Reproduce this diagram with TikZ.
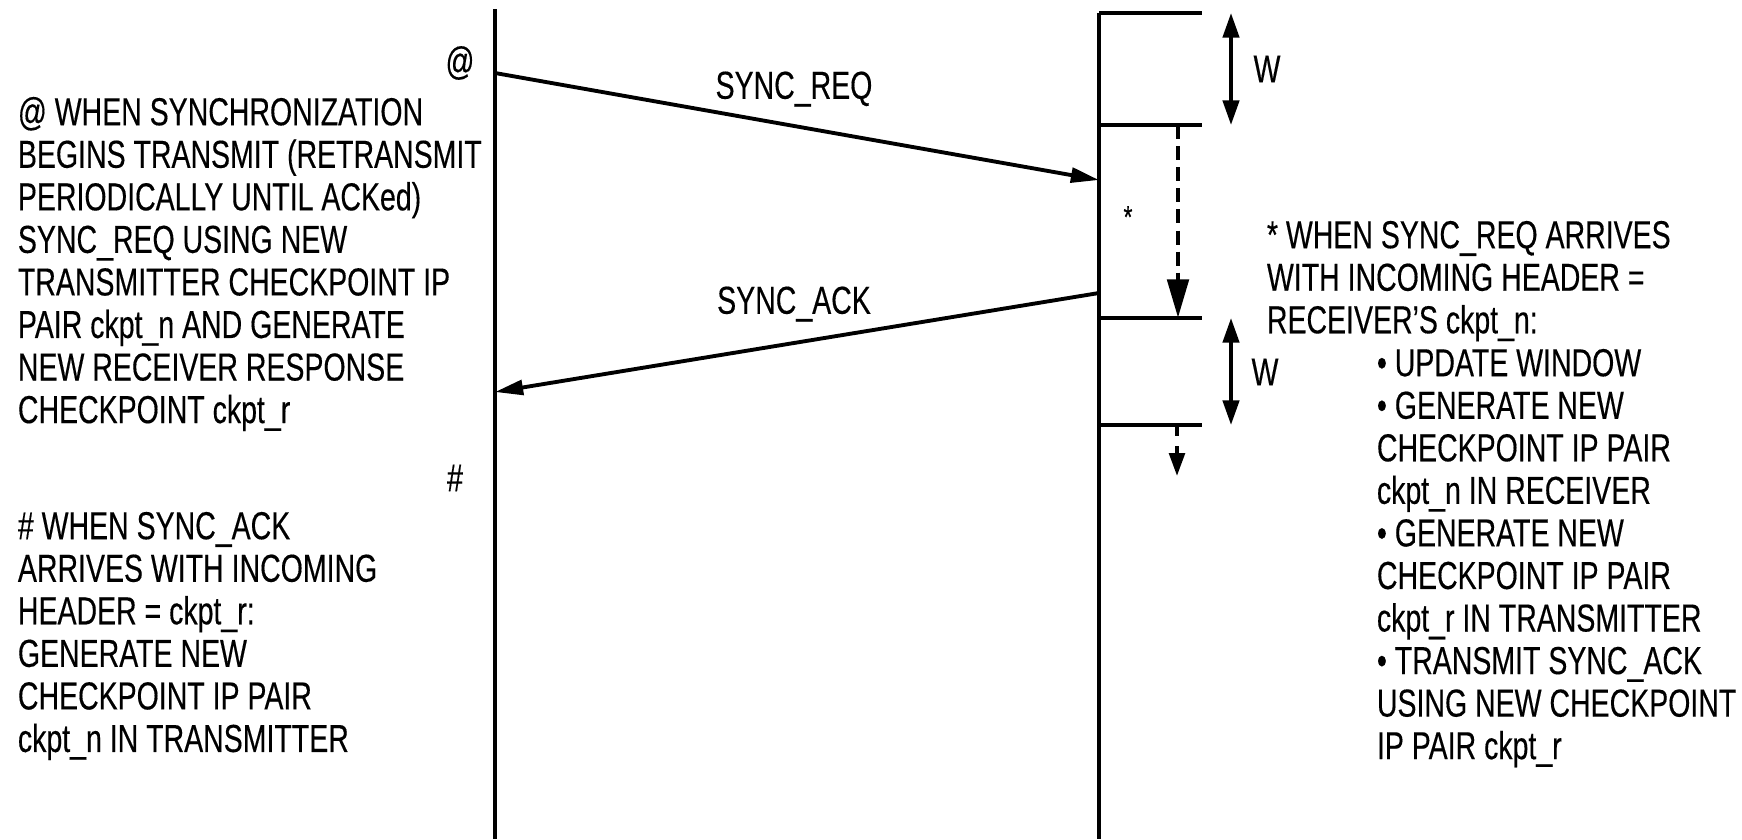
\documentclass[tikz,border=0pt]{standalone}
\usepackage{fontspec}
\setmainfont{Liberation Sans}[FakeStretch=0.73,FakeBold=0.3]
\usetikzlibrary{arrows.meta,positioning}

\tikzset{
	msg/.style={line width=1.1pt,-{Triangle[length=8pt,width=4.2pt]}},
	span/.style={line width=1.1pt,{Triangle[length=7pt,width=4.6pt]}-{Triangle[length=7pt,width=4.6pt]}},
	note/.style={align=left,inner sep=0pt,font=\fontsize{11.1}{12.1}\selectfont},
}

\begin{document}
\begin{tikzpicture}[x=0.01cm,y=-0.01cm,line width=1.1pt]
		\useasboundingbox (0,0) rectangle (1742,839);

		% the two stations
		\coordinate (txtop) at (495,9);
		\coordinate (txbot) at (495,839);
		\coordinate (rxtop) at (1099,13);
		\coordinate (rxbot) at (1099,839);
		\draw (txtop) -- (txbot);
		\draw (rxtop) -- (rxbot);

		% window marks on the receiver
		\foreach \y [count=\i] in {13,125,318,425} {
			\coordinate (tick\i) at (1099,\y);
			\coordinate (tickend\i) at (1202,\y);
			\draw (tick\i) -- (tickend\i);
		}

		% messages
		\coordinate (reqout) at (495,73);
		\coordinate (reqin)  at (1099,180);
		\coordinate (ackout) at (1099,293);
		\coordinate (ackin)  at (495,392);
		\draw[msg] (reqout) -- (reqin);
		\draw[msg] (ackout) -- (ackin);
		\node[note] (lblreq) at (794,89)  {SYNC\_REQ};
		\node[note] (lblack) at (794,304) {SYNC\_ACK};

		% window widths
		\coordinate (wtop1) at (1231,13);
		\coordinate (wbot1) at (1231,125);
		\coordinate (wtop2) at (1231,318);
		\coordinate (wbot2) at (1231,425);
		\draw[span] (wtop1) -- (wbot1);
		\draw[span] (wtop2) -- (wbot2);
		\node[note] (wone) at (1267,69)  {W};
		\node[note] (wtwo) at (1265,372) {W};

		% window shifts
		\coordinate (shift1) at (1178,125);
		\coordinate (shift2) at (1178,318);
		\coordinate (shift3) at (1177,425);
		\coordinate (shift4) at (1177,476);
		\draw[line width=1.4pt,dash pattern=on 4pt off 2pt,-{Triangle[length=11pt,width=6pt]}] (shift1) -- (shift2);
		\draw[line width=1.1pt,dash pattern=on 3pt off 3pt,-{Triangle[length=6.5pt,width=4.4pt]}] (shift3) -- (shift4);

		% event marks
		\node[note] (at)   at (460,63)  {@};
		\node[note,font=\fontsize{9}{10}\selectfont] (star) at (1128,217) {*};
		\node[note] (hash) at (455,478) {\#};

		% notes
		\node[note,anchor=north west] (txtsync) at (16,95) {@ WHEN SYNCHRONIZATION\\BEGINS TRANSMIT (RETRANSMIT\\PERIODICALLY UNTIL ACKed)\\SYNC\_REQ USING NEW\\TRANSMITTER CHECKPOINT IP\\PAIR ckpt\_n AND GENERATE\\NEW RECEIVER RESPONSE\\CHECKPOINT ckpt\_r};
		\node[note,anchor=north west] (txtack) at (16,510) {\# WHEN SYNC\_ACK\\ARRIVES WITH INCOMING\\HEADER = ckpt\_r:\\GENERATE NEW\\CHECKPOINT IP PAIR\\ckpt\_n IN TRANSMITTER};
		\node[note,anchor=north west] (txtreq) at (1265,219) {* WHEN SYNC\_REQ ARRIVES\\WITH INCOMING HEADER =\\RECEIVER'S ckpt\_n:};
		\node[note,anchor=north west] (txtsteps) at (1375,347) {\textbullet\ UPDATE WINDOW\\\textbullet\ GENERATE NEW\\CHECKPOINT IP PAIR\\ckpt\_n IN RECEIVER\\\textbullet\ GENERATE NEW\\CHECKPOINT IP PAIR\\ckpt\_r IN TRANSMITTER\\\textbullet\ TRANSMIT SYNC\_ACK\\USING NEW CHECKPOINT\\IP PAIR ckpt\_r};
	\end{tikzpicture}
\end{document}
